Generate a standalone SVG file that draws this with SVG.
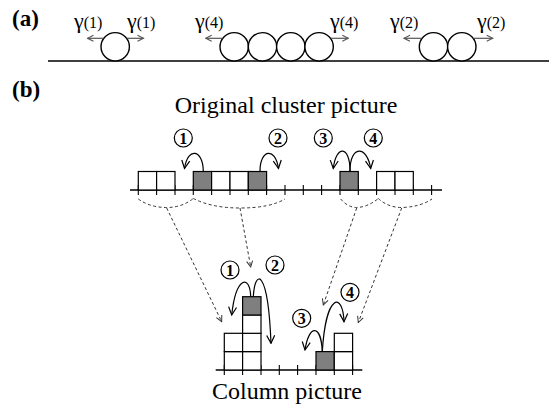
<svg xmlns="http://www.w3.org/2000/svg" width="549" height="405" viewBox="0 0 549 405">
<defs>
<marker id="ga" viewBox="0 0 8 8" refX="7" refY="4" markerWidth="8" markerHeight="8" markerUnits="userSpaceOnUse" orient="auto"><path d="M1,1 L7,4 L1,7" fill="none" stroke="#555" stroke-width="1.1"/></marker>
<marker id="ca" viewBox="0 0 10 10" refX="9" refY="5" markerWidth="10" markerHeight="10" markerUnits="userSpaceOnUse" orient="auto"><path d="M1,1 L9,5 L1,9" fill="none" stroke="#000" stroke-width="1.2"/></marker>
<marker id="da" viewBox="0 0 8 8" refX="7" refY="4" markerWidth="8" markerHeight="8" markerUnits="userSpaceOnUse" orient="auto"><path d="M1,1 L7,4 L1,7" fill="none" stroke="#333" stroke-width="1"/></marker>
</defs>

<g id="part-a">
<text x="12" y="26" font-family="Liberation Serif" font-weight="bold" font-size="23">(a)</text>
<line x1="48" y1="61" x2="549" y2="61" stroke="#000" stroke-width="1.5"/>
<g id="balls" fill="#fff" stroke="#000" stroke-width="1.4">
<circle cx="115.2" cy="46.8" r="14.2"/>
<circle cx="234.2" cy="46.8" r="14.2"/>
<circle cx="262.5" cy="46.8" r="14.2"/>
<circle cx="290.8" cy="46.8" r="14.2"/>
<circle cx="319.1" cy="46.8" r="14.2"/>
<circle cx="433.5" cy="46.8" r="14.2"/>
<circle cx="461.8" cy="46.8" r="14.2"/>
</g>
<g id="rate-arrows" stroke="#555" stroke-width="1.2" marker-end="url(#ga)">
<line x1="103.5" y1="38.3" x2="87.5" y2="38.3"/>
<line x1="126.9" y1="38.3" x2="143.5" y2="38.3"/>
<line x1="222.5" y1="38.3" x2="205.7" y2="38.3"/>
<line x1="330.8" y1="38.3" x2="348.3" y2="38.3"/>
<line x1="421.8" y1="38.3" x2="404" y2="38.3"/>
<line x1="473.5" y1="38.3" x2="492.7" y2="38.3"/>
</g>
<g id="rate-labels" font-family="Liberation Serif">
<text x="74" y="28"><tspan font-size="22">γ</tspan><tspan font-size="16">(1)</tspan></text>
<text x="127" y="28"><tspan font-size="22">γ</tspan><tspan font-size="16">(1)</tspan></text>
<text x="195" y="28"><tspan font-size="22">γ</tspan><tspan font-size="16">(4)</tspan></text>
<text x="330" y="28"><tspan font-size="22">γ</tspan><tspan font-size="16">(4)</tspan></text>
<text x="390" y="28"><tspan font-size="22">γ</tspan><tspan font-size="16">(2)</tspan></text>
<text x="477" y="28"><tspan font-size="22">γ</tspan><tspan font-size="16">(2)</tspan></text>
</g>
</g>

<text x="12" y="97" font-family="Liberation Serif" font-weight="bold" font-size="23">(b)</text>

<g id="original-cluster-picture">
<text x="286" y="113" text-anchor="middle" font-family="Liberation Serif" font-size="24">Original cluster picture</text>
<line x1="130" y1="190" x2="442" y2="190" stroke="#000" stroke-width="1.3"/>
<g id="cluster-ticks" stroke="#000" stroke-width="1.1">
<line x1="138.3" y1="185" x2="138.3" y2="195"/>
<line x1="156.6" y1="185" x2="156.6" y2="195"/>
<line x1="175" y1="185" x2="175" y2="195"/>
<line x1="193.3" y1="185" x2="193.3" y2="195"/>
<line x1="211.6" y1="185" x2="211.6" y2="195"/>
<line x1="230" y1="185" x2="230" y2="195"/>
<line x1="248.3" y1="185" x2="248.3" y2="195"/>
<line x1="266.6" y1="185" x2="266.6" y2="195"/>
<line x1="285" y1="185" x2="285" y2="195"/>
<line x1="303.3" y1="185" x2="303.3" y2="195"/>
<line x1="321.6" y1="185" x2="321.6" y2="195"/>
<line x1="340" y1="185" x2="340" y2="195"/>
<line x1="358.3" y1="185" x2="358.3" y2="195"/>
<line x1="376.6" y1="185" x2="376.6" y2="195"/>
<line x1="395" y1="185" x2="395" y2="195"/>
<line x1="413.3" y1="185" x2="413.3" y2="195"/>
<line x1="431.6" y1="185" x2="431.6" y2="195"/>
</g>
<g id="cluster-cells" fill="#fff" stroke="#000" stroke-width="1.2">
<rect x="138.3" y="171.5" width="18.3" height="18.5"/>
<rect x="156.6" y="171.5" width="18.4" height="18.5"/>
<rect x="193.3" y="171.5" width="18.3" height="18.5" fill="#7f7f7f"/>
<rect x="211.6" y="171.5" width="18.4" height="18.5"/>
<rect x="230" y="171.5" width="18.3" height="18.5"/>
<rect x="248.3" y="171.5" width="18.3" height="18.5" fill="#7f7f7f"/>
<rect x="340" y="171.5" width="18.3" height="18.5" fill="#7f7f7f"/>
<rect x="376.6" y="171.5" width="18.4" height="18.5"/>
<rect x="395" y="171.5" width="18.3" height="18.5"/>
</g>
<g id="cluster-numbers" font-family="Liberation Serif" font-weight="bold" font-size="16" text-anchor="middle">
<g id="c-num-1"><circle cx="183.3" cy="138" r="9" fill="#fff" stroke="#000" stroke-width="1.2"/><text x="183.3" y="143.5">1</text></g>
<g id="c-num-2"><circle cx="278" cy="138" r="9" fill="#fff" stroke="#000" stroke-width="1.2"/><text x="278" y="143.5">2</text></g>
<g id="c-num-3"><circle cx="323.3" cy="138" r="9" fill="#fff" stroke="#000" stroke-width="1.2"/><text x="323.3" y="143.5">3</text></g>
<g id="c-num-4"><circle cx="373.3" cy="138" r="9" fill="#fff" stroke="#000" stroke-width="1.2"/><text x="373.3" y="143.5">4</text></g>
</g>
</g>

<g id="column-picture">
<text x="287" y="399" text-anchor="middle" font-family="Liberation Serif" font-size="24">Column picture</text>
<line x1="215.7" y1="370" x2="362.3" y2="370" stroke="#000" stroke-width="1.3"/>
<g id="column-ticks" stroke="#000" stroke-width="1.1">
<line x1="224.3" y1="365" x2="224.3" y2="375"/>
<line x1="242.6" y1="365" x2="242.6" y2="375"/>
<line x1="261" y1="365" x2="261" y2="375"/>
<line x1="279.3" y1="365" x2="279.3" y2="375"/>
<line x1="297.6" y1="365" x2="297.6" y2="375"/>
<line x1="316" y1="365" x2="316" y2="375"/>
<line x1="334.3" y1="365" x2="334.3" y2="375"/>
<line x1="352.6" y1="365" x2="352.6" y2="375"/>
</g>
<g id="column-cells" fill="#fff" stroke="#000" stroke-width="1.2">
<rect x="224.3" y="351.6" width="18.3" height="18.4"/>
<rect x="224.3" y="333.3" width="18.3" height="18.3"/>
<rect x="242.6" y="351.6" width="18.4" height="18.4"/>
<rect x="242.6" y="333.3" width="18.4" height="18.3"/>
<rect x="242.6" y="315" width="18.4" height="18.3"/>
<rect x="242.6" y="296.7" width="18.4" height="18.3" fill="#7f7f7f"/>
<rect x="316" y="351.6" width="18.3" height="18.4" fill="#7f7f7f"/>
<rect x="334.3" y="351.6" width="18.3" height="18.4"/>
<rect x="334.3" y="333.3" width="18.3" height="18.3"/>
</g>
<g id="column-numbers" font-family="Liberation Serif" font-weight="bold" font-size="16" text-anchor="middle">
<g id="p-num-1"><circle cx="230" cy="270" r="9" fill="#fff" stroke="#000" stroke-width="1.2"/><text x="230" y="275.5">1</text></g>
<g id="p-num-2"><circle cx="275" cy="265" r="9" fill="#fff" stroke="#000" stroke-width="1.2"/><text x="275" y="270.5">2</text></g>
<g id="p-num-3"><circle cx="301.7" cy="318.3" r="9" fill="#fff" stroke="#000" stroke-width="1.2"/><text x="301.7" y="323.8">3</text></g>
<g id="p-num-4"><circle cx="350" cy="292.3" r="9" fill="#fff" stroke="#000" stroke-width="1.2"/><text x="350" y="297.8">4</text></g>
</g>
</g>

<g id="connectors" fill="none">
<g id="hop-arrows" stroke="#000" stroke-width="1.2" marker-end="url(#ca)">
<path d="M203.3,171 C203,150 188,146 184.5,168.5"/>
<path d="M260,171 C260,150 275,146 278.5,168.5"/>
<path d="M350,171 C350,145 336,145 333.3,168.5"/>
<path d="M350,171 C350,145 367,145 370.7,168.5"/>
<path d="M250.7,296.7 C250,274 236,276 231.7,315"/>
<path d="M253.3,296.7 C255,268 268,268 271,343.3"/>
<path d="M322.3,351.6 C321,324 309,324 305,350"/>
<path d="M322.3,351.6 C326,292 343,292 344,321.7"/>
</g>
<g id="braces" stroke="#333" stroke-width="1" stroke-dasharray="3 2.5">
<path d="M138.3,199 Q150,207.5 166.7,207.5 Q182,207.5 193.3,198.5"/>
<path d="M193.3,198.5 Q212,208 240,208 Q270,208 285,199"/>
<path d="M340.7,199 Q348,207.5 356.7,207.5 Q368,207 378.3,198.5"/>
<path d="M378.3,198.5 Q388,207.5 401.7,207.5 Q420,207 432,199"/>
</g>
<g id="map-arrows" stroke="#333" stroke-width="1" stroke-dasharray="3 2.5" marker-end="url(#da)">
<path d="M166.7,208 L221.7,321.7"/>
<path d="M240,208 L250.7,267"/>
<path d="M356.7,208 L323.3,305"/>
<path d="M401.7,208 L358.3,322.5"/>
</g>
</g>
</svg>
